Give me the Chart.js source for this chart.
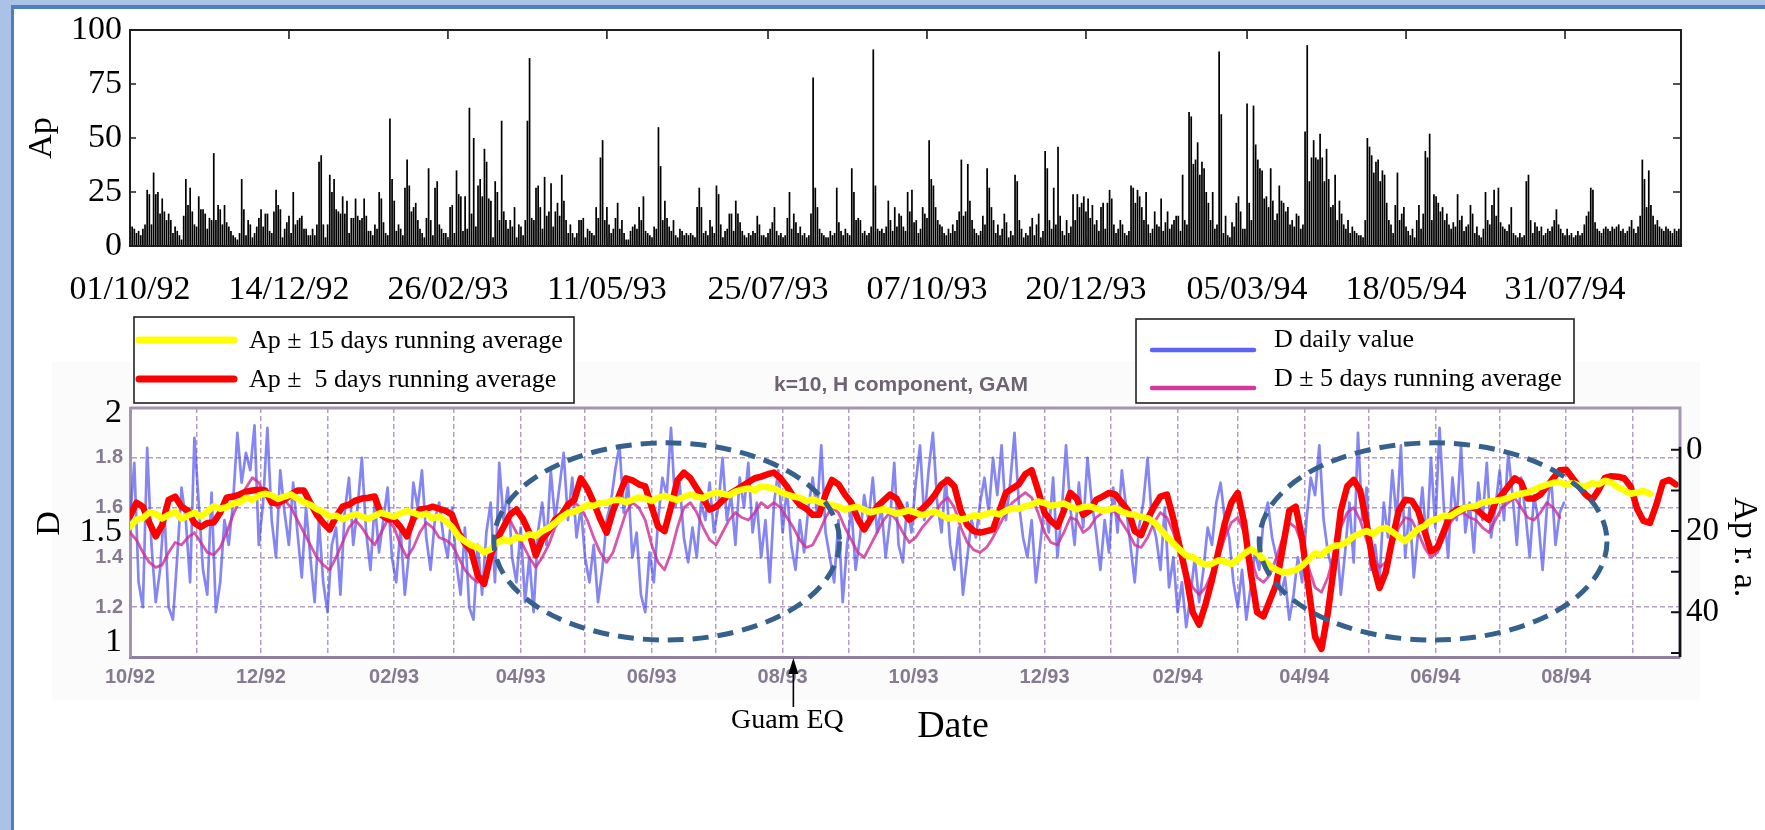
<!DOCTYPE html>
<html>
<head>
<meta charset="utf-8">
<script src="https://cdn.jsdelivr.net/npm/chart.js"></script>
<style>
html,body{margin:0;padding:0;background:#ffffff;width:1765px;height:830px;overflow:hidden;}
.bd{position:absolute;}
#bTop{left:0;top:0;width:1765px;height:5px;background:#a9c2e6;}
#bTop2{left:11px;top:5px;width:1754px;height:4px;background:#4f7fc0;}
#bLeft{left:0;top:0;width:11px;height:830px;background:#a9c2e6;}
#bLeft2{left:11px;top:5px;width:3px;height:825px;background:#4f7fc0;}
canvas{position:absolute;left:0;}
#c1{top:0;}
#c2{top:300px;}
</style>
</head>
<body>
<div class="bd" id="bTop"></div><div class="bd" id="bTop2"></div>
<div class="bd" id="bLeft"></div><div class="bd" id="bLeft2"></div>
<canvas id="c1" width="1765" height="300"></canvas>
<canvas id="c2" width="1765" height="530"></canvas>
<script>
// ---------------- DATA ----------------
// day index 0 = 01/10/1992
const dayMin = 0, dayMax = 722;

// daily Ap index (top panel)
const apDaily = [
27,9,8,6,7,5,8,10,26,24,
10,34,24,25,15,22,16,12,15,12,
6,9,7,5,3,14,31,19,27,16,
10,9,23,17,17,15,8,13,12,43,
12,19,17,10,19,11,9,7,5,4,
3,6,31,17,5,12,10,4,6,9,
13,17,9,15,15,7,6,16,26,19,
17,4,8,11,14,6,25,10,12,13,
14,8,8,5,5,8,5,10,39,42,
10,4,10,33,25,31,17,16,15,23,
15,21,6,13,13,22,14,12,13,22,
14,7,7,5,10,8,25,22,11,6,
5,59,31,21,7,10,8,5,27,40,
28,16,18,20,12,8,6,4,13,36,
12,5,27,30,10,8,6,6,3,18,
19,6,35,24,23,7,23,8,64,15,
50,9,28,31,23,45,39,22,21,4,
30,25,12,58,16,12,8,12,9,18,
4,10,9,5,12,58,87,13,12,27,
28,18,8,32,14,16,29,9,16,20,
14,33,21,12,6,10,6,4,6,12,
12,13,4,8,7,6,5,18,13,41,
49,12,18,10,6,8,13,20,8,12,
6,3,3,7,9,10,8,18,12,23,
7,6,5,4,9,8,55,37,12,21,
13,9,7,12,5,4,8,7,5,6,
5,6,5,4,18,27,18,6,7,5,
12,9,6,28,24,10,4,7,8,15,
15,7,21,15,11,7,5,4,6,5,
7,6,14,10,5,5,4,6,8,11,
18,7,5,6,4,5,13,25,8,15,
11,6,9,5,6,4,5,15,78,27,
18,8,6,5,4,4,7,5,6,27,
11,7,5,8,6,5,36,25,12,13,
12,6,7,5,6,9,91,28,8,7,
8,6,9,21,12,7,18,9,15,14,
9,7,25,16,26,11,12,6,8,18,
15,13,49,31,28,18,12,10,9,6,
5,8,6,10,7,12,16,40,14,16,
38,21,12,8,6,5,7,14,10,36,
27,18,12,6,10,5,8,15,11,4,
7,5,33,30,12,8,4,6,5,9,
13,5,10,15,4,7,44,36,12,8,
27,10,46,14,7,5,12,6,9,24,
12,24,18,20,23,16,22,13,19,10,
12,7,18,20,8,20,26,22,10,6,
8,12,10,6,5,7,28,27,20,26,
23,18,12,25,10,6,8,16,10,9,
22,7,11,16,8,10,12,14,14,7,
33,12,10,62,60,38,40,48,33,39,
36,25,20,12,25,8,10,90,61,6,
14,5,4,11,9,20,23,16,8,8,
66,20,12,65,47,40,36,35,22,23,
18,36,21,12,15,28,21,20,16,18,
10,12,9,15,14,8,10,53,93,30,
41,49,41,40,52,41,30,45,31,18,
19,33,12,21,15,10,8,12,6,9,
7,6,5,5,4,12,50,46,42,34,
39,40,30,35,33,20,12,10,6,19,
34,12,15,18,9,7,5,8,4,12,
19,8,15,44,41,52,12,24,23,20,
16,18,12,15,10,8,11,9,24,12,
14,7,9,10,19,15,6,9,5,4,
8,25,12,10,19,26,14,27,11,9,
8,7,10,18,6,5,4,6,4,5,
30,33,12,6,11,9,7,9,5,6,
8,7,9,12,17,10,8,6,5,8,
5,6,4,5,7,5,6,10,14,16,
27,26,11,8,7,6,8,9,8,7,
9,8,9,10,7,8,6,7,9,12,
8,6,9,14,40,31,18,35,19,14,
10,12,9,8,7,9,8,7,6,8,
7,8
];
const topTickDays   = [0,74,148,222,297,371,445,520,594,668];
const topTickLabels = ['01/10/92','14/12/92','26/02/93','11/05/93','25/07/93','07/10/93','20/12/93','05/03/94','18/05/94','31/07/94'];
const apTickValues  = [0,25,50,75,100];

// Ap +-5 days running average (sampled every 3 days)
const apRA5Step = 3;
const apRA5 = [
16.4,13,14,17.9,21.3,18.5,12.3,11.5,14,15,
18,19,18,17.9,15.5,11.8,11.5,11,10.3,10,
9.8,10,13,13,12.3,11,10,10,13,16,
18,19.6,16.4,14,13.5,12.5,12,11.8,11.5,16,
17,17.2,19,21.3,17,14.7,14.5,14,14.5,15,
16,20.4,23,25,31,33,26,22,19,16,
14.7,17,20.4,26,22,20,17.2,16,13.5,12.3,
7,9.5,13,17,20.4,15,11,7,7.5,8.5,
9,14,18.9,20,14,7.5,5.6,7,9.5,12,
14.7,14,12.5,11,10,9,8,7,6.6,6,
5.6,7,9,11.5,13.5,14.5,16,16,11,7.4,
8.5,11,13,17,19.6,17,14,12.5,11,12,
15,17.2,16,14.5,13,11,8.5,7.4,9,15,
18.5,20,20.4,20,19.6,15,10.6,9.5,8.5,6,
5,10,15.5,17.5,18.9,15,10.6,12,16,15,
12.3,11.5,10.6,11,13,15,20,21,17,14,
11.5,11,17,24,31,40,43,38,32,25,
18,13,10.6,18,30,40,41,37,33,24,
15,14,22,34,46,49,40,28,15,9,
7.4,10,18,28,34,30,22,15,12.3,12.5,
15,20,25,24,20,16,14.7,14.5,14,14.5,
16,17.2,13,11,9,7,8,12,12,11,
9,7,5,4.9,7,9,11,12.3,10,6.9,
6.5,6.6,7,9,14.5,17.5,18,13.5,8,7.4,
8.5
];

// Ap +-15 days running average (sampled every 3 days)
const apRA15Step = 3;
const apRA15 = [
18.9,17.2,16.8,15.4,15.8,16.9,16,15.2,17,16.2,
15.5,16.4,15.2,13.9,14.5,14.1,13.2,12.9,11.8,12.3,
11.2,10.8,11.2,12.1,11.5,11,12,12.9,13.5,14.6,
15.3,16.4,16.2,17.1,16.4,15.8,16.4,17,16.2,15.5,
16,16.5,15.6,15,15.5,16.1,15.7,16.9,16.4,17.5,
19,21.3,22.5,23.5,24,25.2,24.5,22.9,22,22.6,
21.5,21.8,20.8,21.2,20,19.2,18,16.6,15.5,15.2,
14.5,13.6,13.8,13.1,13,12.4,12.3,12.9,12.3,11.7,
12,12.6,11.8,11.3,11.9,12.4,11.6,11,11.5,11.9,
11,10.5,10.8,11.2,10.3,9.8,9.5,9.9,9,9.2,
9.5,10.4,11,11.5,11.8,12.6,12.2,12.8,13.3,13.6,
14,14.7,14.3,14,14.8,15.4,15,14.6,15.1,15.7,
15.3,14.9,15.5,16.1,15.6,15.2,16,16.9,16.5,17.2,
16.8,16.1,16.3,15.7,15.5,15.9,15,14.3,14.5,13.9,
13.5,12.7,13.1,13.8,13.5,13.2,14,14.6,14.1,13.9,
14.4,15,14.7,14.3,15.2,15.8,16,16.5,16.8,17.8,
19.5,21.4,23,24.6,26,26.4,27.5,28.3,28,27.2,
27.5,28.1,27,25.6,24.5,25.3,27,28.6,29.5,30.2,
30,29.6,28.5,27,25.5,25.9,24.5,23.6,23.5,22.6,
21.3,20.6,20,20.7,19.6,19.2,20.2,21.4,22.5,21,
19.5,18.7,17.4,17,16.2,16.3,15.3,14.4,14,13.8,
13,12.7,12.5,12.3,11.8,11.2,10.8,10.5,9.8,9.1,
8.6,8.1,7.9,8.6,8.2,8.8,9,8.2,8.5,7.6,
8,9.2,10,10.8,10.5,10.1,10.8
];

// D daily value (sampled every 2 days)
const dDailyStep = 2;
const dDaily = [
1.55,1.78,1.30,1.20,1.84,1.45,1.22,1.35,1.60,1.20,
1.15,1.40,1.68,1.55,1.30,1.88,1.62,1.35,1.25,1.66,
1.18,1.30,1.55,1.45,1.62,1.90,1.70,1.82,1.75,1.93,
1.45,1.62,1.92,1.55,1.40,1.75,1.58,1.45,1.70,1.50,
1.32,1.60,1.40,1.22,1.55,1.30,1.18,1.45,1.52,1.25,
1.58,1.72,1.45,1.60,1.80,1.50,1.35,1.62,1.42,1.55,
1.68,1.40,1.30,1.52,1.25,1.42,1.70,1.60,1.75,1.48,
1.35,1.55,1.62,1.48,1.40,1.60,1.38,1.25,1.52,1.20,
1.15,1.45,1.25,1.50,1.62,1.30,1.78,1.55,1.68,1.40,
1.30,1.52,1.22,1.40,1.18,1.50,1.62,1.45,1.75,1.55,
1.68,1.82,1.55,1.72,1.48,1.60,1.40,1.30,1.45,1.22,
1.35,1.55,1.62,1.75,1.85,1.58,1.70,1.40,1.50,1.25,
1.18,1.42,1.30,1.55,1.72,1.65,1.92,1.60,1.70,1.48,
1.38,1.52,1.40,1.62,1.55,1.70,1.50,1.60,1.80,1.55,
1.65,1.45,1.72,1.60,1.78,1.50,1.62,1.40,1.55,1.30,
1.62,1.75,1.50,1.68,1.45,1.35,1.55,1.42,1.60,1.72,
1.58,1.85,1.50,1.40,1.30,1.55,1.22,1.45,1.60,1.35,
1.48,1.65,1.55,1.72,1.50,1.60,1.40,1.55,1.78,1.45,
1.38,1.62,1.50,1.70,1.85,1.55,1.75,1.90,1.62,1.50,
1.72,1.45,1.35,1.52,1.25,1.40,1.55,1.48,1.62,1.72,
1.58,1.80,1.65,1.85,1.55,1.70,1.90,1.62,1.48,1.40,
1.55,1.30,1.45,1.62,1.50,1.72,1.40,1.58,1.85,1.60,
1.45,1.70,1.52,1.80,1.62,1.50,1.35,1.55,1.42,1.68,
1.50,1.75,1.60,1.45,1.30,1.52,1.62,1.80,1.55,1.48,
1.35,1.60,1.28,1.40,1.18,1.30,1.12,1.25,1.40,1.22,
1.35,1.52,1.45,1.62,1.70,1.55,1.48,1.30,1.20,1.35,
1.15,1.28,1.42,1.35,1.55,1.62,1.48,1.40,1.25,1.32,
1.15,1.25,1.40,1.30,1.55,1.72,1.65,1.85,1.55,1.42,
1.35,1.50,1.25,1.42,1.62,1.38,1.90,1.55,1.68,1.35,
1.45,1.30,1.62,1.48,1.75,1.55,1.85,1.40,1.60,1.32,
1.50,1.68,1.45,1.80,1.52,1.92,1.60,1.40,1.72,1.55,
1.85,1.50,1.62,1.42,1.70,1.55,1.78,1.48,1.60,1.75,
1.55,1.82,1.65,1.45,1.72,1.58,1.40,1.65,1.55,1.35,
1.60,1.72,1.45,1.58,1.62
];

// D +-5 days running average (sampled every 3 days)
const dRA5Step = 3;
const dRA5 = [
1.50,1.47,1.42,1.38,1.36,1.37,1.42,1.46,1.45,1.48,
1.50,1.46,1.42,1.41,1.44,1.50,1.57,1.63,1.68,1.72,
1.70,1.65,1.62,1.60,1.63,1.60,1.55,1.50,1.45,1.40,
1.37,1.35,1.40,1.46,1.52,1.55,1.52,1.48,1.45,1.50,
1.55,1.52,1.45,1.40,1.44,1.50,1.54,1.52,1.48,1.47,
1.45,1.40,1.35,1.32,1.30,1.33,1.40,1.46,1.52,1.55,
1.50,1.45,1.40,1.36,1.40,1.45,1.52,1.56,1.60,1.62,
1.60,1.55,1.48,1.42,1.38,1.42,1.50,1.58,1.62,1.60,
1.55,1.45,1.38,1.35,1.42,1.52,1.60,1.62,1.58,1.52,
1.47,1.45,1.50,1.55,1.58,1.56,1.55,1.58,1.62,1.60,
1.62,1.60,1.56,1.52,1.47,1.44,1.45,1.50,1.56,1.60,
1.58,1.52,1.47,1.42,1.40,1.45,1.50,1.55,1.58,1.55,
1.50,1.46,1.48,1.52,1.55,1.58,1.62,1.64,1.60,1.52,
1.46,1.43,1.42,1.44,1.48,1.53,1.58,1.62,1.64,1.66,
1.64,1.58,1.50,1.46,1.45,1.50,1.56,1.55,1.50,1.52,
1.56,1.58,1.60,1.58,1.54,1.50,1.45,1.44,1.48,1.54,
1.58,1.56,1.50,1.42,1.34,1.28,1.25,1.28,1.34,1.40,
1.48,1.54,1.56,1.50,1.40,1.32,1.30,1.33,1.40,1.48,
1.54,1.52,1.45,1.36,1.28,1.26,1.32,1.42,1.52,1.58,
1.60,1.55,1.47,1.40,1.36,1.38,1.45,1.52,1.56,1.55,
1.50,1.44,1.40,1.42,1.48,1.54,1.57,1.58,1.56,1.55,
1.52,1.50,1.55,1.60,1.62,1.64,1.60,1.56,1.55,1.58,
1.62,1.60,1.56
];

// bottom-panel axes
const monthTickDays   = [0,31,61,92,123,151,182,212,243,273,304,335,365,396,426,457,488,516,547,577,608,638,669,700];
const monthTickLabels = ['10/92','','12/92','','02/93','','04/93','','06/93','','08/93','','10/93','','12/93','','02/94','','04/94','','06/94','','08/94',''];
const dTickValues   = [1.0,1.1,1.2,1.3,1.4,1.5,1.6,1.7,1.8,1.9,2.0];
const dTickLabels   = ['','','1.2','','1.4','','1.6','','1.8','',''];
const dBigTickValues = [2, 1.5, 1];
const dBigTickLabels = ['2','1.5','1'];
const apRaTickValues = [0,10,20,30,40,50];
const apRaTickLabels = ['0','','20','','40',''];

// annotations (data coordinates)
const guamEqDay = 309;
const highlightPeriods = [
  {centerDay: 250, centerD: 1.464, halfDays: 80.5, halfD: 0.396},
  {centerDay: 607, centerD: 1.464, halfDays: 81, halfD: 0.396}
];

// ---------------- STYLE ----------------
const serif = "'Liberation Serif','Times New Roman',serif";
const sans  = "'Liberation Sans',Arial,sans-serif";
const toPoints = (vals, step) => vals.map((v, i) => ({x: i * step, y: v}));

// ---------------- TOP CHART ----------------
const topFramePlugin = {
  id: 'topFrame',
  afterDraw(chart) {
    const {ctx, chartArea: a, scales: {x, y}} = chart;
    ctx.save();
    ctx.strokeStyle = '#1e1e1e';
    ctx.lineWidth = 2;
    ctx.strokeRect(a.left, a.top, a.right - a.left, a.bottom - a.top);
    ctx.lineWidth = 1.6;
    ctx.beginPath();
    topTickDays.forEach(d => {
      const px = x.getPixelForValue(d);
      ctx.moveTo(px, a.bottom); ctx.lineTo(px, a.bottom - 9);
      ctx.moveTo(px, a.top); ctx.lineTo(px, a.top + 9);
    });
    apTickValues.forEach(v => {
      const py = y.getPixelForValue(v);
      ctx.moveTo(a.left, py); ctx.lineTo(a.left + 6, py);
      ctx.moveTo(a.right, py); ctx.lineTo(a.right - 8, py);
    });
    ctx.stroke();
    ctx.fillStyle = '#000';
    ctx.font = `34px ${serif}`;
    ctx.textAlign = 'center';
    ctx.textBaseline = 'middle';
    ctx.translate(42, (a.top + a.bottom) / 2);
    ctx.rotate(-Math.PI / 2);
    ctx.fillText('Ap', 0, 0);
    ctx.restore();
  }
};

new Chart(document.getElementById('c1'), {
  type: 'bar',
  data: {
    datasets: [{
      label: 'Ap',
      data: toPoints(apDaily, 1),
      backgroundColor: '#000000',
      borderWidth: 0,
      barPercentage: 1.0,
      categoryPercentage: 0.8
    }]
  },
  options: {
    responsive: false,
    animation: false,
    devicePixelRatio: 1,
    events: [],
    layout: {padding: {left: 0, top: 30, right: 84, bottom: 0}},
    plugins: {legend: {display: false}, tooltip: {enabled: false}},
    scales: {
      x: {
        type: 'linear', min: dayMin, max: dayMax, offset: false,
        afterBuildTicks: s => { s.ticks = topTickDays.map(v => ({value: v})); },
        afterFit: s => { s.height = 54; },
        grid: {display: false, drawTicks: false},
        border: {display: false},
        ticks: {autoSkip: false, maxRotation: 0, padding: 24, color: '#000',
                font: {family: serif, size: 34},
                callback: (v, i) => topTickLabels[i]}
      },
      y: {
        min: 0, max: 100,
        afterBuildTicks: s => { s.ticks = apTickValues.map(v => ({value: v})); },
        afterFit: s => { s.width = 130; },
        grid: {display: false, drawTicks: false},
        border: {display: false},
        ticks: {padding: 8, color: '#000', font: {family: serif, size: 34},
                callback: v => String(v)}
      }
    }
  },
  plugins: [topFramePlugin]
});

// ---------------- BOTTOM CHART ----------------
function drawLegend(ctx, box, items) {
  ctx.save();
  ctx.fillStyle = '#ffffff';
  ctx.fillRect(box.x, box.y, box.w, box.h);
  ctx.strokeStyle = '#222';
  ctx.lineWidth = 1.6;
  ctx.strokeRect(box.x, box.y, box.w, box.h);
  items.forEach(it => {
    ctx.strokeStyle = it.color;
    ctx.lineWidth = it.width;
    ctx.lineCap = 'round';
    ctx.beginPath();
    ctx.moveTo(box.x + box.lineX0, it.lineY);
    ctx.lineTo(box.x + box.lineX1, it.lineY);
    ctx.stroke();
    ctx.fillStyle = '#000';
    ctx.font = `26px ${serif}`;
    ctx.textAlign = 'left';
    ctx.textBaseline = 'alphabetic';
    ctx.fillText(it.label, box.x + box.textX, it.textY);
  });
  ctx.restore();
}

const bottomDecor = {
  id: 'bottomDecor',
  beforeDraw(chart) {
    const {ctx, chartArea: a} = chart;
    ctx.save();
    ctx.fillStyle = '#fcfbfc';
    ctx.fillRect(52, 62, 1648, 338);
    ctx.fillStyle = '#ffffff';
    ctx.fillRect(a.left, a.top, a.right - a.left, a.bottom - a.top);
    ctx.restore();
  },
  beforeDatasetDraw(chart, args) {
    if (args.meta.yAxisID === 'y') { chart.ctx.save(); chart.ctx.filter = 'blur(0.6px)'; }
  },
  afterDatasetDraw(chart, args) {
    if (args.meta.yAxisID === 'y') chart.ctx.restore();
  },
  afterDraw(chart) {
    const {ctx, chartArea: a, scales: {x, y, y2}} = chart;
    const ds = chart.data.datasets;
    ctx.save();
    // plot box (top, right)
    ctx.strokeStyle = '#a595b2';
    ctx.lineWidth = 3;
    ctx.beginPath();
    ctx.moveTo(a.left, a.top); ctx.lineTo(a.right, a.top); ctx.lineTo(a.right, a.bottom);
    ctx.stroke();
    // right Ap r.a. axis line and inward ticks
    const y0 = y2.getPixelForValue(apRaTickValues[0]);
    ctx.strokeStyle = '#111';
    ctx.lineWidth = 2.5;
    ctx.beginPath(); ctx.moveTo(a.right, y0 - 3); ctx.lineTo(a.right, a.bottom); ctx.stroke();
    ctx.lineWidth = 2;
    ctx.beginPath();
    apRaTickValues.forEach(v => {
      const py = y2.getPixelForValue(v);
      ctx.moveTo(a.right, py); ctx.lineTo(a.right - 9, py);
    });
    ctx.stroke();
    // big D labels
    ctx.fillStyle = '#000';
    ctx.font = `34px ${serif}`;
    ctx.textAlign = 'right';
    ctx.textBaseline = 'middle';
    dBigTickValues.forEach((v, i) => {
      const py = Math.min(Math.max(y.getPixelForValue(v), a.top + 5), a.bottom - 15);
      ctx.fillText(dBigTickLabels[i], a.left - 8, py);
    });
    // axis titles
    ctx.textAlign = 'center';
    ctx.save();
    ctx.translate(50, (a.top + a.bottom) / 2 - 9);
    ctx.rotate(-Math.PI / 2);
    ctx.fillText('D', 0, 0);
    ctx.restore();
    ctx.save();
    ctx.translate(1744, y2.getPixelForValue(24));
    ctx.rotate(Math.PI / 2);
    ctx.fillText('Ap r. a.', 0, 0);
    ctx.restore();
    // highlighted periods
    ctx.strokeStyle = '#35618c';
    ctx.lineWidth = 5;
    ctx.setLineDash([16, 9]);
    highlightPeriods.forEach(e => {
      const cx = x.getPixelForValue(e.centerDay);
      const cy = y.getPixelForValue(e.centerD);
      const rx = x.getPixelForValue(e.centerDay + e.halfDays) - cx;
      const ry = y.getPixelForValue(e.centerD - e.halfD) - cy;
      ctx.beginPath();
      ctx.ellipse(cx, cy, rx, ry, 0, 0, Math.PI * 2);
      ctx.stroke();
    });
    ctx.setLineDash([]);
    // inner title
    ctx.fillStyle = '#6d6473';
    ctx.font = `bold 21px ${sans}`;
    ctx.textBaseline = 'middle';
    ctx.fillText('k=10, H component, GAM', 901, 85);
    // legends
    drawLegend(ctx, {x: 134, y: 17, w: 440, h: 86, lineX0: 5, lineX1: 100, textX: 115}, [
      {label: ds[0].label, color: '#ffff00', width: 7, lineY: 40, textY: 48},
      {label: ds[1].label, color: '#ff0000', width: 7, lineY: 79, textY: 87}
    ]);
    drawLegend(ctx, {x: 1136, y: 19, w: 438, h: 84, lineX0: 16, lineX1: 118, textX: 138}, [
      {label: ds[3].label, color: '#5a64f5', width: 4.5, lineY: 50, textY: 47},
      {label: ds[2].label, color: '#d2399c', width: 4.5, lineY: 88, textY: 86}
    ]);
    // Guam EQ marker
    const ex = x.getPixelForValue(guamEqDay);
    ctx.strokeStyle = '#000';
    ctx.fillStyle = '#000';
    ctx.lineWidth = 1.6;
    ctx.beginPath(); ctx.moveTo(ex, a.bottom + 14); ctx.lineTo(ex, a.bottom + 50); ctx.stroke();
    ctx.beginPath();
    ctx.moveTo(ex, a.bottom + 1); ctx.lineTo(ex - 5, a.bottom + 17); ctx.lineTo(ex + 5, a.bottom + 17);
    ctx.closePath(); ctx.fill();
    ctx.font = `28px ${serif}`;
    ctx.textAlign = 'center';
    ctx.textBaseline = 'alphabetic';
    ctx.fillText('Guam EQ', ex - 6, a.bottom + 71);
    // x title
    ctx.font = `38px ${serif}`;
    ctx.fillText('Date', 953, a.bottom + 80);
    ctx.restore();
  }
};

const gridColor = 'rgba(125,95,155,0.6)';
new Chart(document.getElementById('c2'), {
  type: 'line',
  data: {
    datasets: [
      {label: 'Ap \u00B1 15 days running average', data: toPoints(apRA15, apRA15Step), yAxisID: 'y2',
       borderColor: '#ffff00', borderWidth: 6.5},
      {label: 'Ap \u00B1  5 days running average', data: toPoints(apRA5, apRA5Step), yAxisID: 'y2',
       borderColor: '#ff0000', borderWidth: 6.5},
      {label: 'D \u00B1 5 days running average', data: toPoints(dRA5, dRA5Step), yAxisID: 'y',
       borderColor: 'rgba(205,45,150,0.8)', borderWidth: 2.8},
      {label: 'D daily value', data: toPoints(dDaily, dDailyStep), yAxisID: 'y',
       borderColor: 'rgba(72,72,236,0.66)', borderWidth: 2.7}
    ]
  },
  options: {
    responsive: false,
    animation: false,
    devicePixelRatio: 1,
    events: [],
    layout: {padding: {left: 0, top: 108, right: 25, bottom: 133}},
    elements: {
      point: {radius: 0},
      line: {tension: 0, borderJoinStyle: 'round', borderCapStyle: 'round', fill: false}
    },
    plugins: {legend: {display: false}, tooltip: {enabled: false}},
    scales: {
      x: {
        type: 'linear', min: dayMin, max: dayMax,
        afterBuildTicks: s => { s.ticks = monthTickDays.map(v => ({value: v})); },
        afterFit: s => { s.height = 40; },
        grid: {color: gridColor, lineWidth: 1.5, drawTicks: false},
        border: {color: '#8e7d9b', width: 3, dash: [5, 3]},
        ticks: {autoSkip: false, maxRotation: 0, padding: 8, color: '#857a90',
                font: {family: sans, size: 20, weight: 'bold'},
                callback: (v, i) => monthTickLabels[i]}
      },
      y: {
        position: 'left', min: 1, max: 2,
        afterBuildTicks: s => { s.ticks = dTickValues.map(v => ({value: v})); },
        afterFit: s => { s.width = 130; },
        grid: {color: gridColor, lineWidth: 1.5, drawTicks: false},
        border: {color: '#a493b3', width: 3, dash: [5, 3]},
        ticks: {padding: 7, color: '#857a90', font: {family: sans, size: 20, weight: 'bold'},
                callback: (v, i) => dTickLabels[i]}
      },
      y2: {
        position: 'right', reverse: true, min: -10.3, max: 51,
        afterBuildTicks: s => { s.ticks = apRaTickValues.map(v => ({value: v})); },
        afterFit: s => { s.width = 60; },
        grid: {display: false, drawOnChartArea: false, drawTicks: false},
        border: {display: false},
        ticks: {padding: 6, color: '#000', font: {family: serif, size: 33},
                callback: (v, i) => apRaTickLabels[i]}
      }
    }
  },
  plugins: [bottomDecor]
});
</script>
</body>
</html>
